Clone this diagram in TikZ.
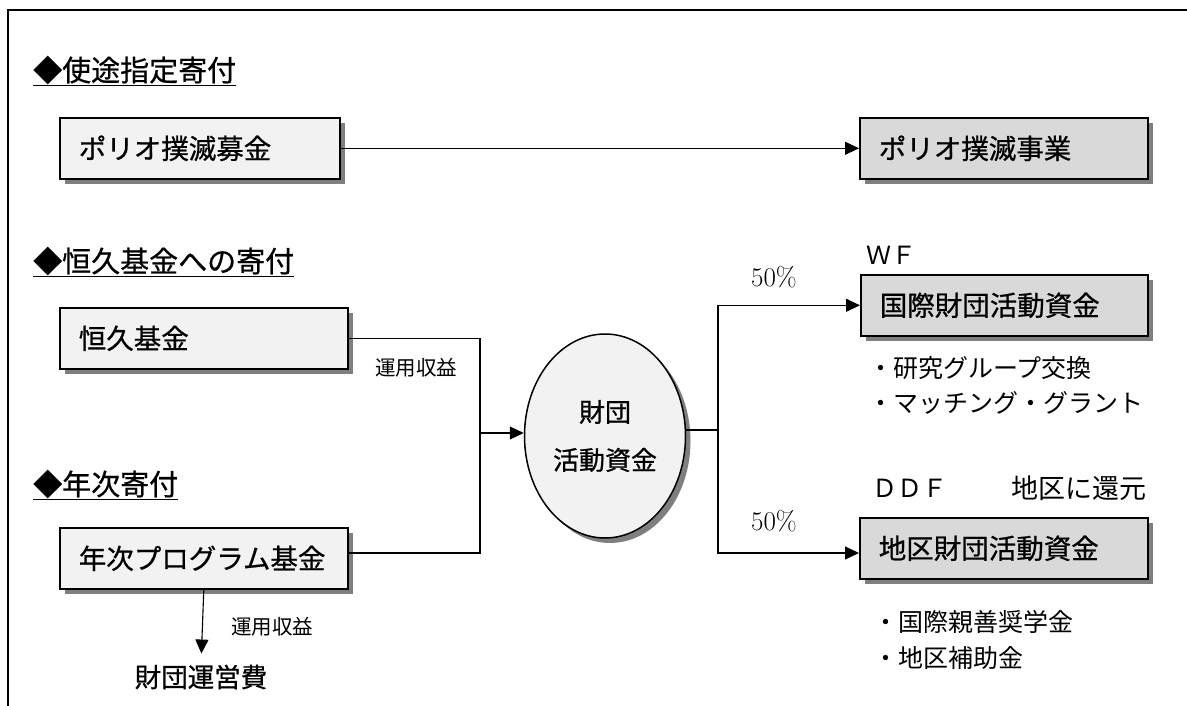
\documentclass[tikz,border=0pt]{standalone}
\usepackage{fontspec}
\newfontfamily\jp{Noto Sans CJK JP}
\newfontfamily\jpm{Noto Sans CJK JP}[FakeBold=0.7]
\usetikzlibrary{shadows,arrows.meta,shapes.geometric,calc}
\definecolor{lightfill}{HTML}{F2F2F2}
\definecolor{darkfill}{HTML}{D9D9D9}
\definecolor{shadowgray}{HTML}{7F7F7F}
\tikzset{
  boxbase/.style={draw, line width=1.6pt, rectangle, anchor=north west, minimum height=61pt,
    inner xsep=19pt, align=left, font=\jpm\fontsize{27.5}{30}\selectfont,
    drop shadow={shadow xshift=5pt, shadow yshift=-5pt, fill=shadowgray, opacity=1}},
  srcbox/.style={boxbase, fill=lightfill},
  dstbox/.style={boxbase, fill=darkfill},
  header/.style={anchor=west, inner sep=0pt, font=\jpm\fontsize{29}{32}\selectfont},
  small/.style={inner sep=0pt, font=\jp\fontsize{20.5}{24}\selectfont},
  bullet/.style={anchor=west, inner sep=0pt, font=\jp\fontsize{25}{28}\selectfont},
  pct/.style={inner sep=0pt, font=\fontsize{27}{30}\selectfont},
  conn/.style={line width=1.1pt},
  arr/.style={conn, -{Triangle[length=14pt,width=13pt]}},
}
\begin{document}
\begin{tikzpicture}[x=1pt,y=-1pt]
\useasboundingbox (0,0) rectangle (1187,706);
\draw[line width=2pt] (8,706) -- (8,10) -- (1187,10);

% headers
\node[header] (h1) at (33,71) {\underline{◆使途指定寄付}};
\node[header] (h2) at (33,262) {\underline{◆恒久基金への寄付}};
\node[header] (h3) at (33,485) {\underline{◆年次寄付}};

% boxes
\node[srcbox, text width=242pt] (polio1) at (59,117) {ポリオ撲滅募金};
\node[dstbox, text width=250pt] (polio2) at (859,117) {ポリオ撲滅事業};
\node[srcbox, text width=250pt] (kyu) at (59,307) {恒久基金};
\node[srcbox, text width=250pt] (nenji) at (59,527) {年次プログラム基金};
\node[dstbox, text width=249pt] (wfbox) at (860,274) {国際財団活動資金};
\node[dstbox, text width=250pt] (ddfbox) at (859,517) {地区財団活動資金};

% ellipse
\node[ellipse, draw, line width=1.5pt, fill=lightfill, minimum width=161pt, minimum height=204pt,
  drop shadow={shadow xshift=5pt, shadow yshift=-5pt, fill=shadowgray, opacity=1},
  align=center, font=\jpm\fontsize{26}{48}\selectfont] (fund) at (605,436) {財団\\活動資金};

% labels
\node[small] (un1) at (416,368) {運用収益};
\node[small] (un2) at (272,627) {運用収益};
\node[inner sep=0pt, font=\jpm\fontsize{26.5}{30}\selectfont] (unei) at (201,677) {財団運営費};
\node[pct] (p1) at (774,277) {50\%};
\node[pct] (p2) at (774,521) {50\%};
\node[anchor=west, inner sep=0pt, font=\jp\fontsize{25}{28}\selectfont] (wf) at (866,255) {ＷＦ};
\node[anchor=west, inner sep=0pt, font=\jp\fontsize{25}{28}\selectfont] (ddf) at (872,488) {ＤＤＦ};
\node[anchor=east, inner sep=0pt, font=\jp\fontsize{27}{30}\selectfont] (kangen) at (1147,488) {地区に還元};
\node[bullet] (b1) at (868,368) {・研究グループ交換};
\node[bullet] (b2) at (868,403) {・マッチング・グラント};
\node[bullet] (b3) at (873,622) {・国際親善奨学金};
\node[bullet] (b4) at (873,658) {・地区補助金};

% connectors
\coordinate (jl) at (480,553);
\coordinate (jm) at (480,433);
\coordinate (jr) at (718,430);
\draw[arr] (polio1.east) -- (polio2.west);
\draw[conn] (kyu.east) -| (jl) -- (nenji.east |- jl);
\draw[arr] (jm) -- (fund.west |- jm);
\draw[conn] (fund.east |- jr) -- (jr);
\draw[arr] (jr) |- (wfbox.west);
\draw[arr] (jr) |- (ddfbox.west |- jl);
\draw[arr, shorten >=11pt] (nenji.south) -- (unei.north);
\end{tikzpicture}
\end{document}
